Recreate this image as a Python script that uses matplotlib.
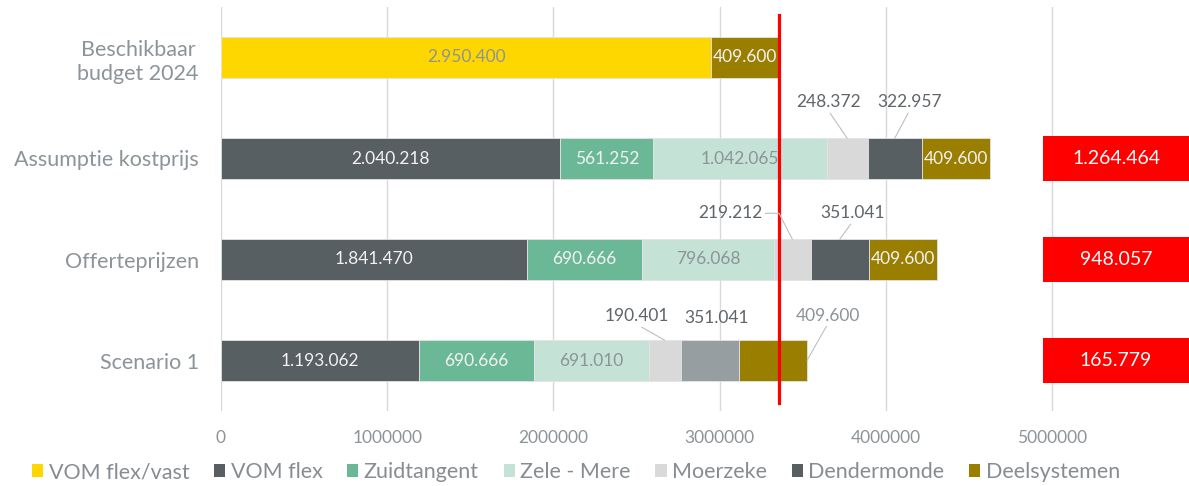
import matplotlib
matplotlib.use("Agg")
import matplotlib.pyplot as plt
import numpy as np
from matplotlib.patches import Rectangle, Patch
import matplotlib.transforms as mtransforms

# ---------------- data ----------------
categories = ["Beschikbaar\nbudget 2024", "Assumptie kostprijs", "Offerteprijzen", "Scenario 1"]
series_names = ["VOM flex/vast", "VOM flex", "Zuidtangent", "Zele - Mere",
                "Moerzeke", "Dendermonde", "Deelsystemen"]
vom_flex_vast = [2950400, 0, 0, 0]
vom_flex = [0, 2040218, 1841470, 1193062]
zuidtangent = [0, 561252, 690666, 690666]
zele_mere = [0, 1042065, 796068, 691010]
moerzeke = [0, 248372, 219212, 190401]
dendermonde = [0, 322957, 351041, 351041]
deelsystemen = [409600, 409600, 409600, 409600]
verschil = [1264464, 948057, 165779]   # overschrijding t.o.v. budget (rows 1..3)
x_ticks = [0, 1000000, 2000000, 3000000, 4000000, 5000000]

series_values = [vom_flex_vast, vom_flex, zuidtangent, zele_mere,
                 moerzeke, dendermonde, deelsystemen]

# ---------------- style ----------------
colors = {
    "VOM flex/vast": "#FFD700",
    "VOM flex": "#575F63",
    "Zuidtangent": "#6BB897",
    "Zele - Mere": "#C4E2D6",
    "Moerzeke": "#D9D9D9",
    "Dendermonde": "#575F63",
    "Deelsystemen": "#9A7E00",
}
row_color_override = {("Dendermonde", 3): "#969EA1"}
inside_text = {
    "VOM flex/vast": "#8C9498",
    "VOM flex": "#F2F2F2",
    "Zuidtangent": "#F2F2F2",
    "Zele - Mere": "#8C9498",
    "Moerzeke": "#595959",
    "Dendermonde": "#F2F2F2",
    "Deelsystemen": "#F2F2F2",
}
# outside labels: (series, row) -> (anchor, dx px, dy px, leader, text colour)
outside = {
    ("Moerzeke", 1): ("top", -19, 36, "straight", "#5F6569"),
    ("Dendermonde", 1): ("top", 15, 36, "straight", "#5F6569"),
    ("Moerzeke", 2): ("top", -62, 26, "elbow", "#5F6569"),
    ("Dendermonde", 2): ("top", 13, 26, "straight", "#5F6569"),
    ("Moerzeke", 3): ("top", -28, 24, "straight", "#5F6569"),
    ("Dendermonde", 3): ("top", 7, 22, None, "#5F6569"),
    ("Deelsystemen", 3): ("right", 21, 45, "straight", "#8C9498"),
}
axis_grey = "#8C9498"
leader_col = "#BFBFBF"
label_fs = 12.5

plt.rcParams['font.family'] = ['Lato', 'DejaVu Sans']


def fmt(v):
    return f"{int(v):,}".replace(",", ".")


W, H = 1189, 486
fig = plt.figure(figsize=(W / 100, H / 100), dpi=100)
ax = fig.add_axes([221 / W, 1 - 411 / H, (W - 221) / W, 404 / H])

y = np.arange(len(categories))
left = np.zeros(len(categories))
bar_h = 0.4
handles = []
for name, vals in zip(series_names, series_values):
    vals = np.array(vals, dtype=float)
    cols = [row_color_override.get((name, i), colors[name]) for i in range(len(vals))]
    ax.barh(y, vals, left=left, height=bar_h, color=cols,
            edgecolor="#E3E3E3", linewidth=0.6, zorder=2)
    handles.append(Patch(facecolor=colors[name], edgecolor="none", label=name))
    for i, v in enumerate(vals):
        if v <= 0:
            continue
        key = (name, i)
        if key in outside:
            anchor, dx, dy, leader, tcol = outside[key]
            if anchor == "top":
                xy = (left[i] + v / 2, y[i] - bar_h / 2)
            else:
                xy = (left[i] + v, y[i])
            arrowprops = None
            if leader == "straight":
                arrowprops = dict(arrowstyle="-", color=leader_col, lw=0.8,
                                  shrinkA=0, shrinkB=0, relpos=(0.5, 0.0))
            elif leader == "elbow":
                arrowprops = dict(arrowstyle="-", color=leader_col, lw=0.8,
                                  shrinkA=0, shrinkB=0, relpos=(1.0, 0.5),
                                  connectionstyle="angle,angleA=0,angleB=117,rad=0")
            ax.annotate(fmt(v), xy=xy, xytext=(dx, dy), textcoords="offset pixels",
                        ha="center", va="center", fontsize=label_fs, color=tcol,
                        arrowprops=arrowprops, zorder=5, annotation_clip=False)
        else:
            ax.text(left[i] + v / 2, y[i], fmt(v), ha="center", va="center",
                    fontsize=label_fs, color=inside_text[name], zorder=5)
    left = left + vals

budget_total = left[0]
ax.axvline(budget_total, ymin=0.02, ymax=0.98, color="#FF0000", lw=2.3, zorder=4)

# red difference boxes at the right
trans = mtransforms.blended_transform_factory(ax.transAxes, ax.transData)
box_x0 = (1043 - 221) / (W - 221)
for i, d in enumerate(verschil):
    row = y[i + 1]
    ax.add_patch(Rectangle((box_x0, row - 0.225), 1.0 - box_x0 + 0.01, 0.45,
                           transform=trans, facecolor="#FF0000", edgecolor="none",
                           clip_on=False, zorder=3))
    ax.text((box_x0 + 1.0) / 2, row, fmt(d), transform=trans, ha="center",
            va="center", fontsize=14, color="white", zorder=5)

ax.set_xlim(0, (W - 221) / 166.2 * 1e6)
ax.set_ylim(len(categories) - 0.5, -0.5)
ax.set_xticks(x_ticks)
ax.set_xticklabels([str(t) for t in x_ticks])
ax.set_yticks(y)
ax.set_yticklabels(categories, multialignment="center", linespacing=1.25)
ax.tick_params(axis="x", length=0, pad=14, labelsize=12.5, labelcolor=axis_grey)
ax.tick_params(axis="y", length=0, pad=16, labelsize=15.5, labelcolor=axis_grey)
ax.xaxis.grid(True, color="#D9D9D9", lw=1.0)
ax.set_axisbelow(True)
for s in ax.spines.values():
    s.set_visible(False)

fig.legend(handles=handles, loc="center", bbox_to_anchor=(576 / W, 1 - 472 / H),
           ncol=7, frameon=False, fontsize=15.5, handlelength=0.52, handleheight=0.52,
           handletextpad=0.25, columnspacing=1.15, labelcolor="#868D91",
           borderaxespad=0, borderpad=0)

fig.savefig("out.png", dpi=100)
